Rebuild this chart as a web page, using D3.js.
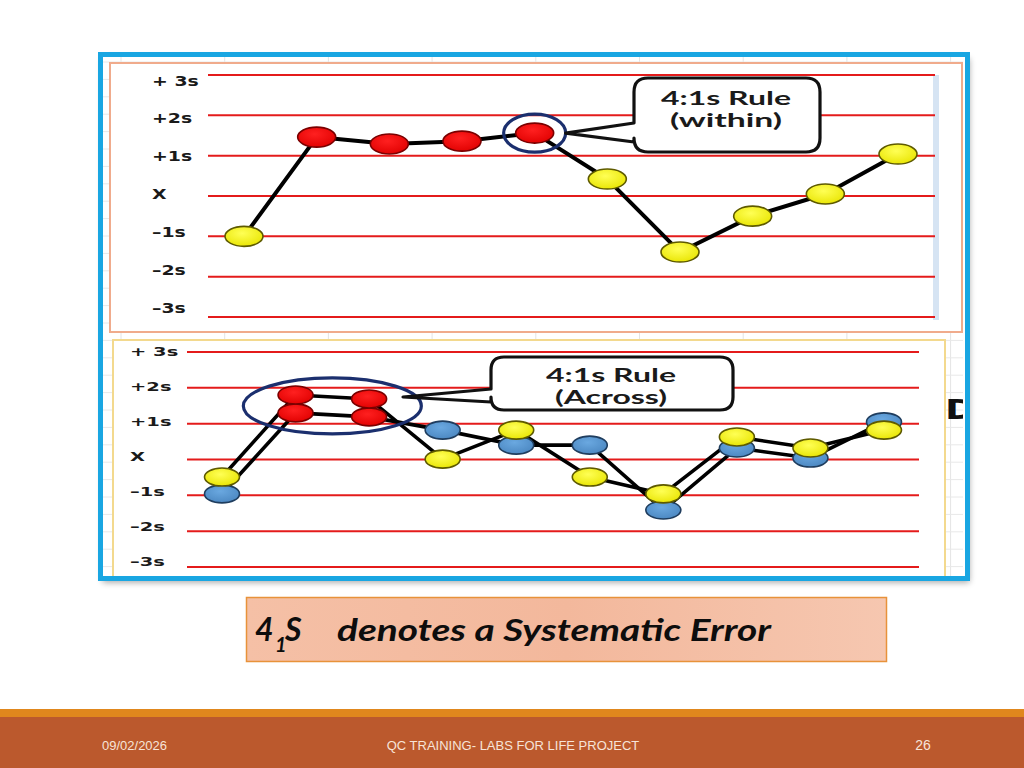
<!DOCTYPE html>
<html>
<head>
<meta charset="utf-8">
<script src="https://cdn.jsdelivr.net/npm/d3@7"></script>
<style>
  html, body { margin: 0; padding: 0; background: #ffffff; }
  svg { display: block; }
</style>
</head>
<body>
<svg id="chart" width="1024" height="768"></svg>
<script>
// ---------------- DATA ----------------
const runs = [1, 2, 3, 4, 5, 6, 7, 8, 9, 10];
const sdLevels = [3, 2, 1, 0, -1, -2, -3];
const sdLabels = ["+ 3s", "+2s", "+1s", "X", "–1s", "–2s", "–3s"];

// Top chart: one control run (within-run rule)
const withinValues = [-1.0, 1.46, 1.29, 1.36, 1.56, 0.42, -1.39, -0.50, 0.05, 1.04];
const withinFlag   = [false, true, true, true, true, false, false, false, false, false];

// Bottom chart: two control levels (across-run rule)
const acrossLevelA = [-0.49, 1.80, 1.69, 0.01, 0.82, -0.49, -0.96, 0.63, 0.32, 0.82]; // yellow
const acrossLevelB = [-0.96, 1.30, 1.19, 0.82, 0.40, 0.40, -1.41, 0.32, 0.04, 1.05]; // blue
const acrossFlag   = [false, true, true, false, false, false, false, false, false, false];

const calloutTop = ["4:1s Rule", "(within)"];
const calloutBottom = ["4:1s Rule", "(Across)"];
const captionMain = "4";
const captionSub = "1";
const captionS = "S";
const captionRest = "denotes a Systematic Error";
const footerDate = "09/02/2026";
const footerTitle = "QC TRAINING- LABS FOR LIFE PROJECT";
const footerPage = "26";

// ---------------- DRAW ----------------
const svg = d3.select("#chart");
const defs = svg.append("defs");

function radial(id, c0, c1) {
  const g = defs.append("radialGradient").attr("id", id)
    .attr("cx", "45%").attr("cy", "35%").attr("r", "70%");
  g.append("stop").attr("offset", "0%").attr("stop-color", c0);
  g.append("stop").attr("offset", "100%").attr("stop-color", c1);
}
radial("gYellow", "#ffff55", "#e8e400");
radial("gRed", "#ff2020", "#e00000");
radial("gBlue", "#6aa8e0", "#4a86c0");

const capGrad = defs.append("linearGradient").attr("id", "gCap")
  .attr("x1", "0%").attr("x2", "100%");
capGrad.append("stop").attr("offset", "0%").attr("stop-color", "#f5c0a6");
capGrad.append("stop").attr("offset", "50%").attr("stop-color", "#f3b89c");
capGrad.append("stop").attr("offset", "100%").attr("stop-color", "#f6c7b0");

const shadow = defs.append("filter").attr("id", "shadow")
  .attr("x", "-5%").attr("y", "-5%").attr("width", "110%").attr("height", "115%");
shadow.append("feGaussianBlur").attr("in", "SourceAlpha").attr("stdDeviation", 3);
shadow.append("feOffset").attr("dx", 2).attr("dy", 4).attr("result", "ob");
shadow.append("feComponentTransfer").append("feFuncA").attr("type", "linear").attr("slope", 0.35);
const fm = shadow.append("feMerge");
fm.append("feMergeNode");
fm.append("feMergeNode").attr("in", "SourceGraphic");

defs.append("clipPath").attr("id", "frameClip")
  .append("rect").attr("x", 103).attr("y", 57).attr("width", 860).attr("height", 519);

// Frame background with shadow
svg.append("rect").attr("x", 100.5).attr("y", 54.5).attr("width", 867).attr("height", 524)
  .attr("fill", "#ffffff").attr("filter", "url(#shadow)");

// Faint spreadsheet grid behind panels
const bg = svg.append("g").attr("clip-path", "url(#frameClip)");
d3.range(121, 980, 103.7).forEach(x => {
  bg.append("line").attr("x1", x).attr("x2", x).attr("y1", 57).attr("y2", 580)
    .attr("stroke", "#e4e4e4").attr("stroke-width", 1);
});
d3.range(62, 580, 17.4).forEach(y => {
  bg.append("line").attr("x1", 103).attr("x2", 963).attr("y1", y).attr("y2", y)
    .attr("stroke", "#e8e8e8").attr("stroke-width", 1);
});

// "D" peeking from behind the frame
bg.append("text").attr("transform", "translate(945,419) scale(1.45,1)")
  .attr("font-family", "DejaVu Sans").attr("font-weight", "bold").attr("font-size", 26)
  .attr("fill", "#111").text("D");

// ---------- Panel builder ----------
function panel(opts) {
  const g = svg.append("g").attr("clip-path", "url(#frameClip)");
  g.append("rect").attr("x", opts.box[0]).attr("y", opts.box[1])
    .attr("width", opts.box[2]).attr("height", opts.box[3])
    .attr("fill", "#ffffff").attr("stroke", opts.boxStroke).attr("stroke-width", 2);

  const x = d3.scalePoint().domain(runs).range(opts.xRange);
  const y = d3.scaleLinear().domain([-3, 3]).range(opts.yRange);
  const yl = d3.scaleLinear().domain([-3, 3]).range(opts.labelRange);

  if (opts.strip) {
    g.append("rect").attr("x", opts.strip[0]).attr("y", opts.strip[1])
      .attr("width", opts.strip[2]).attr("height", opts.strip[3])
      .attr("fill", "#d6e4f3");
  }

  // red SD lines
  g.selectAll(null).data(sdLevels).enter().append("line")
    .attr("x1", opts.lineX[0]).attr("x2", opts.lineX[1])
    .attr("y1", d => y(d)).attr("y2", d => y(d))
    .attr("stroke", "#e41b1b").attr("stroke-width", 2);

  // labels
  g.selectAll(null).data(sdLevels).enter().append("text")
    .attr("transform", d => `translate(${opts.labelX},${yl(d)}) scale(${opts.labelScale},1)`)
    .attr("dominant-baseline", "central")
    .attr("font-family", "DejaVu Sans").attr("font-weight", "bold")
    .attr("font-size", opts.labelSize).attr("fill", "#1a1a1a")
    .text((d, i) => sdLabels[i]);

  return { g, x, y };
}

function series(p, values, flags, grad, stroke, rx, ry, lw) {
  const line = d3.line().x((d, i) => p.x(runs[i])).y(d => p.y(d));
  p.g.append("path").datum(values).attr("d", line)
    .attr("fill", "none").attr("stroke", "#000").attr("stroke-width", lw)
    .attr("stroke-linejoin", "round");
  return () => {
    p.g.selectAll(null).data(values).enter().append("ellipse")
      .attr("cx", (d, i) => p.x(runs[i])).attr("cy", d => p.y(d))
      .attr("rx", rx).attr("ry", ry)
      .attr("fill", (d, i) => flags[i] ? "url(#gRed)" : grad)
      .attr("stroke", (d, i) => flags[i] ? "#7a0000" : stroke)
      .attr("stroke-width", 1.6);
  };
}

function callout(g, bx, by, bw, bh, r, tip, baseTop, baseBot, lines, cx, ys, widths) {
  const x0 = bx, x1 = bx + bw, y0 = by, y1 = by + bh;
  const d = `M${x0 + r},${y0} H${x1 - r} Q${x1},${y0} ${x1},${y0 + r} V${y1 - r} Q${x1},${y1} ${x1 - r},${y1}` +
    ` H${x0 + r} Q${x0},${y1} ${x0},${y1 - r} V${baseBot} L${tip[0]},${tip[1]} L${x0},${baseTop} V${y0 + r} Q${x0},${y0} ${x0 + r},${y0} Z`;
  g.append("path").attr("d", d).attr("fill", "#ffffff").attr("stroke", "#111")
    .attr("stroke-width", 3.2).attr("stroke-linejoin", "round");
  lines.forEach((t, i) => {
    g.append("text").attr("x", cx).attr("y", ys[i]).attr("text-anchor", "middle")
      .attr("dominant-baseline", "central")
      .attr("font-family", "Lato").attr("font-weight", "bold").attr("font-size", 19)
      .attr("fill", "#1a1a1a")
      .attr("textLength", widths[i]).attr("lengthAdjust", "spacingAndGlyphs")
      .text(t);
  });
}

// ---------- Top panel ----------
const topP = panel({
  box: [110, 63, 852, 269], boxStroke: "#f0ab8c",
  xRange: [244, 898], yRange: [317, 75], labelRange: [308, 81],
  lineX: [208, 935], labelX: 152, labelScale: 1.35, labelSize: 14,
  strip: [933, 75, 6, 245]
});
const drawTop = series(topP, withinValues, withinFlag, "url(#gYellow)", "#5e5a00", 19, 10, 4);
drawTop();
const ringTop = { cx: topP.x(runs[4]), cy: topP.y(withinValues[4]) };
topP.g.append("ellipse").attr("cx", ringTop.cx).attr("cy", ringTop.cy)
  .attr("rx", 31).attr("ry", 19).attr("fill", "none")
  .attr("stroke", "#1b2f6e").attr("stroke-width", 3.2);
callout(topP.g, 634, 78, 186, 74, 14, [ringTop.cx + 31, ringTop.cy], 123, 142,
  calloutTop, 726, [97, 119], [130, 112]);

// ---------- Bottom panel ----------
const botP = panel({
  box: [113, 340, 832, 250], boxStroke: "#f3d98e",
  xRange: [222, 884], yRange: [567, 352], labelRange: [562, 352],
  lineX: [187, 919], labelX: 130, labelScale: 1.5, labelSize: 13
});
const drawB = series(botP, acrossLevelB, acrossFlag, "url(#gBlue)", "#1f3d5e", 17.5, 9, 3.6);
const drawA = series(botP, acrossLevelA, acrossFlag, "url(#gYellow)", "#5e5a00", 17.5, 9, 3.6);
drawB();
drawA();
const ringB = {
  cx: (botP.x(runs[1]) + botP.x(runs[2])) / 2,
  cy: botP.y((acrossLevelA[1] + acrossLevelB[2]) / 2)
};
botP.g.append("ellipse").attr("cx", ringB.cx).attr("cy", ringB.cy)
  .attr("rx", 89).attr("ry", 28).attr("fill", "none")
  .attr("stroke", "#1b2f6e").attr("stroke-width", 3.2);
callout(botP.g, 491, 357, 242, 53, 13, [403, 397], 389, 402,
  calloutBottom, 611, [374, 396], [130, 112]);

// Blue frame on top
svg.append("rect").attr("x", 100.5).attr("y", 54.5).attr("width", 867).attr("height", 524)
  .attr("fill", "none").attr("stroke", "#19a6e2").attr("stroke-width", 5);

// ---------- Caption ----------
svg.append("rect").attr("x", 246.5).attr("y", 597.5).attr("width", 640).attr("height", 64)
  .attr("fill", "url(#gCap)").attr("stroke", "#e8923a").attr("stroke-width", 1.5);
function capText(x, y, size, t, len) {
  const el = svg.append("text").attr("x", x).attr("y", y)
    .attr("font-family", "Lato").attr("font-weight", "bold")
    .attr("font-style", "italic").attr("font-size", size).attr("fill", "#0d0d0d").text(t);
  if (len) el.attr("textLength", len).attr("lengthAdjust", "spacingAndGlyphs");
  return el;
}
capText(255, 641, 32, captionMain);
capText(275, 652, 20, captionSub);
capText(285, 641, 32, captionS);
capText(337, 641, 31, captionRest, 434);

// ---------- Footer ----------
svg.append("rect").attr("x", 0).attr("y", 709).attr("width", 1024).attr("height", 8).attr("fill", "#e0871d");
svg.append("rect").attr("x", 0).attr("y", 717).attr("width", 1024).attr("height", 51).attr("fill", "#bb592d");
const ft = (x, t, size, anchor) => svg.append("text").attr("x", x).attr("y", 745)
  .attr("dominant-baseline", "central").attr("text-anchor", anchor)
  .attr("font-family", "Liberation Sans, Arial").attr("font-size", size)
  .attr("fill", "#f7e4d8").text(t);
ft(102, footerDate, 13, "start");
ft(513, footerTitle, 13, "middle");
ft(923, footerPage, 14, "middle");
</script>
</body>
</html>
